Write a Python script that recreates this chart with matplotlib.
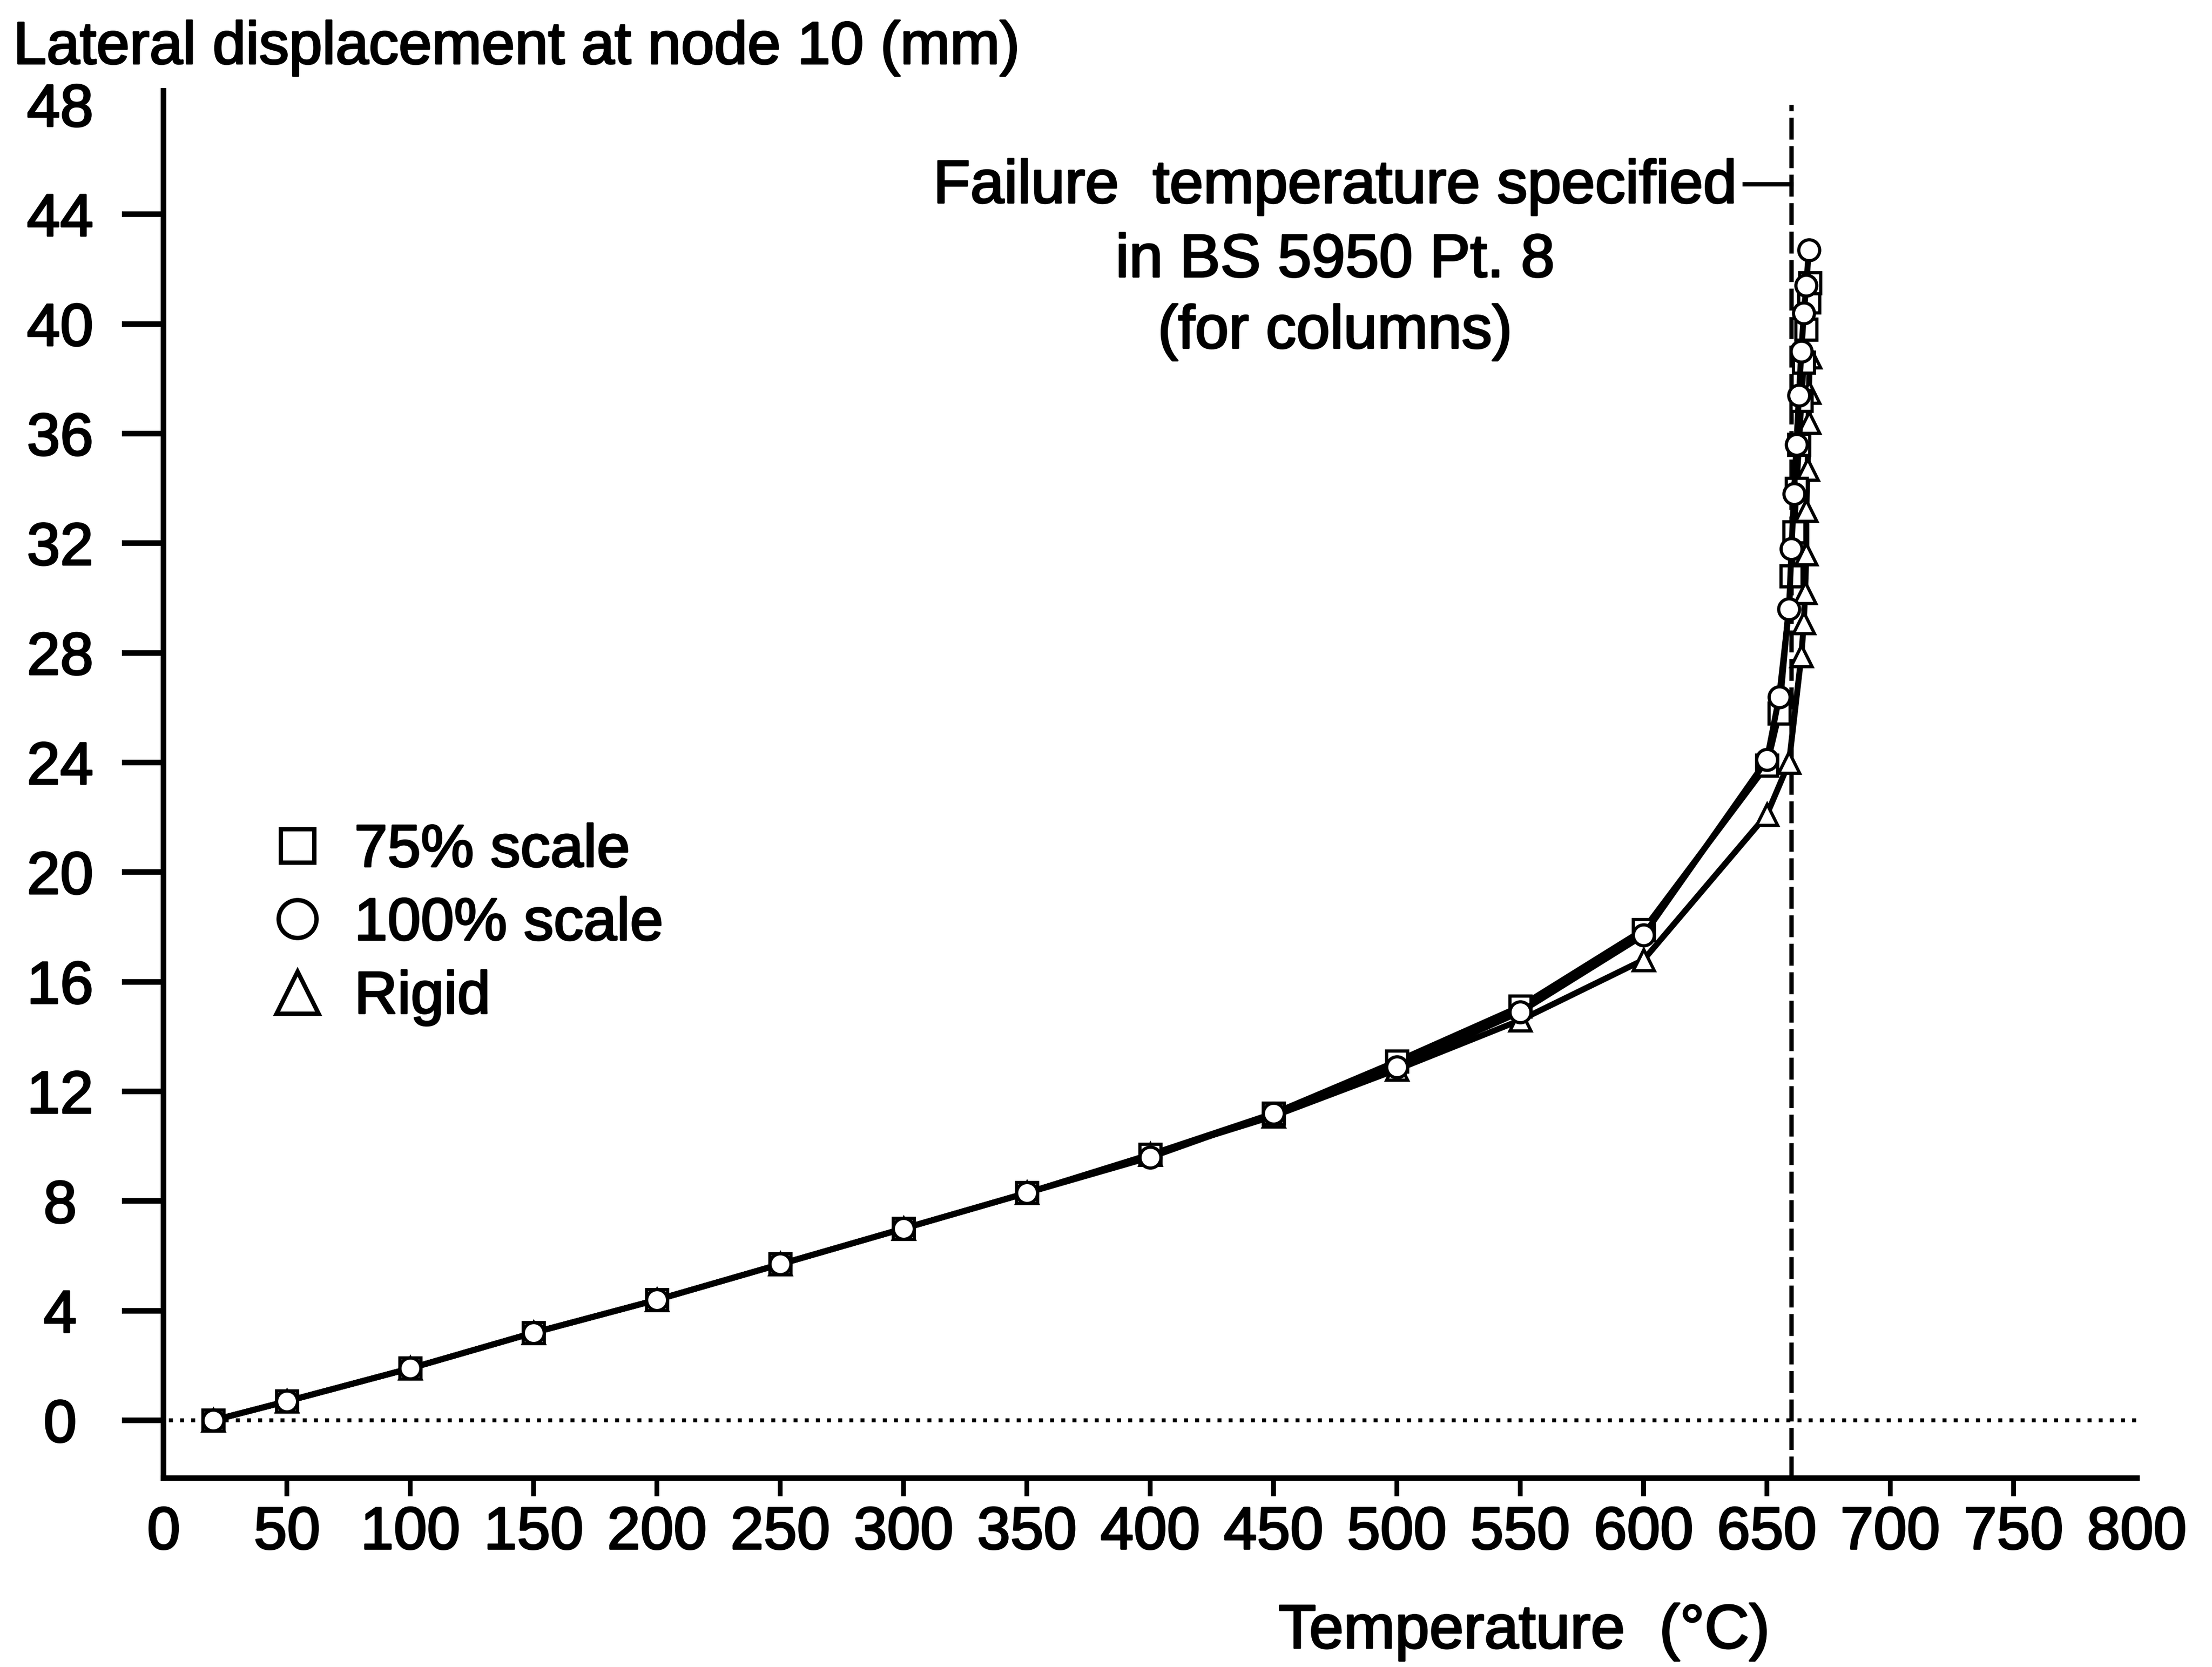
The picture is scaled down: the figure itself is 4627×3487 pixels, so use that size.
import matplotlib
matplotlib.use("Agg")
import matplotlib.pyplot as plt
import matplotlib.patheffects as pe
from matplotlib.lines import Line2D

plt.rcParams['font.family'] = ['Liberation Sans', 'DejaVu Sans']

# data (temperature in C, displacement in mm)
temp_75 = [20, 50, 100, 150, 200, 250, 300, 350, 400, 450, 500, 550, 600, 650,
           655, 660, 661, 662, 663, 664, 665, 666, 667, 667.5]
disp_75 = [0.0, 0.7, 1.9, 3.2, 4.4, 5.7, 7.0, 8.3, 9.7, 11.2, 13.1, 15.1, 17.9, 23.9,
           25.8, 30.8, 32.4, 34.0, 35.6, 37.2, 38.6, 39.8, 40.8, 41.5]

temp_100 = [20, 50, 100, 150, 200, 250, 300, 350, 400, 450, 500, 550, 600, 650,
            655, 659, 660, 661, 662, 663, 664, 665, 666, 667]
disp_100 = [0.0, 0.7, 1.9, 3.2, 4.4, 5.7, 7.0, 8.3, 9.6, 11.2, 12.9, 14.9, 17.7, 24.1,
            26.4, 29.6, 31.8, 33.8, 35.6, 37.4, 39.0, 40.4, 41.4, 42.7]

temp_rigid = [20, 50, 100, 150, 200, 250, 300, 350, 400, 450, 500, 550, 600, 650,
              659, 664, 665, 665.5, 666, 666, 666.5, 667, 667, 667.5]
disp_rigid = [0.0, 0.7, 1.9, 3.2, 4.4, 5.7, 7.0, 8.3, 9.7, 11.1, 12.8, 14.6, 16.8, 22.1,
              24.0, 27.9, 29.1, 30.2, 31.6, 33.2, 34.7, 36.4, 37.5, 38.8]

failure_temp = 660
xticks = list(range(0, 801, 50))
yticks = list(range(0, 49, 4))

# scanned print looks heavy, thicken the glyphs a little
heavy = [pe.withStroke(linewidth=0.9, foreground='black')]

fig = plt.figure(figsize=(4627 / 300, 3487 / 300), dpi=300)
ax = fig.add_axes([0.074, 0.1134, 0.892, 0.832])

mk = dict(color='black', lw=3.0, markersize=10.5, markerfacecolor='white',
          markeredgecolor='black', markeredgewidth=1.6, zorder=3)
ax.plot(temp_rigid, disp_rigid, marker='^', **mk)
ax.plot(temp_75, disp_75, marker='s', **mk)
ax.plot(temp_100, disp_100, marker='o', **mk)

# zero line (dotted) running out to the tick mark
ax.plot([-16, 800], [0, 0], color='black', lw=2.0, dashes=(1, 1.8),
        clip_on=False, zorder=2)
# failure temperature (dashed)
ax.plot([failure_temp, failure_temp], [-2.1, 48.0], color='black', lw=2.2,
        dashes=(5, 1.5), zorder=2)
ax.plot([641, failure_temp], [45.1, 45.1], color='black', lw=2.2)

ann = dict(ha='center', va='center', fontsize=30.5, path_effects=heavy)
ax.text(475, 45.0, 'Failure  temperature specified', **ann)
ax.text(475, 42.3, 'in BS 5950 Pt. 8', **ann)
ax.text(475, 39.7, '(for columns)', **ann)

ax.set_xlim(0, 800)
ax.set_ylim(-2.1, 48.5)
ax.set_xticks(xticks)
ax.set_yticks(yticks)
ax.tick_params(axis='both', labelsize=30, direction='out')
ax.tick_params(axis='y', length=21, width=2.8, pad=31)
ax.tick_params(axis='x', length=9, width=2.4, pad=5)
for lab in ax.get_yticklabels():
    lab.set_horizontalalignment('center')
for lab in ax.get_xticklabels() + ax.get_yticklabels():
    lab.set_path_effects(heavy)
ax.xaxis.get_major_ticks()[0].tick1line.set_visible(False)
ax.xaxis.get_major_ticks()[-1].tick1line.set_visible(False)
ax.yaxis.get_major_ticks()[-1].tick1line.set_visible(False)

for s in ['top', 'right']:
    ax.spines[s].set_visible(False)
for s in ['left', 'bottom']:
    ax.spines[s].set_linewidth(2.8)

fig.text(0.006, 0.971, 'Lateral displacement at node 10 (mm)', fontsize=30,
         ha='left', va='center', path_effects=heavy)
fig.text(0.689, 0.021, 'Temperature  (\u00b0C)', fontsize=31, ha='center',
         va='center', path_effects=heavy)

handles = [
    Line2D([], [], ls='none', marker='s', markersize=17, markerfacecolor='white',
           markeredgecolor='black', markeredgewidth=2.2, label='75% scale'),
    Line2D([], [], ls='none', marker='o', markersize=19, markerfacecolor='white',
           markeredgecolor='black', markeredgewidth=2.2, label='100% scale'),
    Line2D([], [], ls='none', marker='^', markersize=21, markerfacecolor='white',
           markeredgecolor='black', markeredgewidth=2.2, label='Rigid'),
]
leg = fig.legend(handles=handles, loc='upper left', bbox_to_anchor=(0.121, 0.506),
                 frameon=False, fontsize=30, handlelength=1.0, handletextpad=0.45,
                 labelspacing=0.3, borderpad=0, borderaxespad=0)
for t in leg.get_texts():
    t.set_path_effects(heavy)

fig.savefig('out.png', dpi=300, facecolor='white')
